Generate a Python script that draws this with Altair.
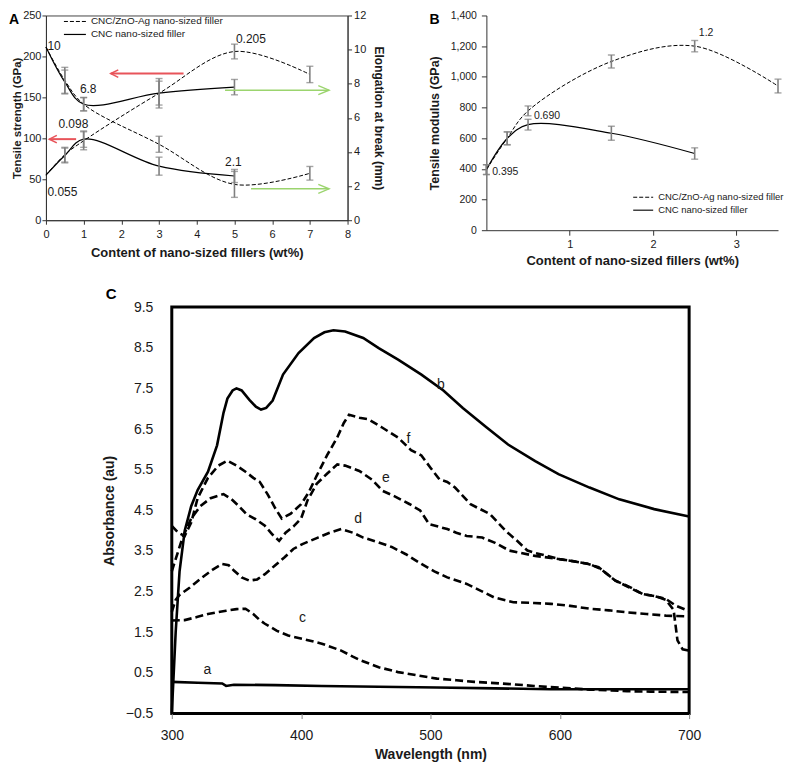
import altair as alt
import pandas as pd

FONT = "Liberation Sans"
INK = "#1a1a1a"
GREY = "#808080"
RED = "#e8545a"
GREEN = "#9bd46e"

# ---------------- Panel A data ----------------
A_x = [0, 0.5, 1, 3, 5, 7]
A_ts_hyb = [55, 80, 97, 155, 206, 178]          # CNC/ZnO-Ag, tensile strength (GPa)
A_ts_hyb_err = [0, 9, 11, 18, 9, 10]
A_x_cnc = [0, 0.5, 1, 3, 5]
A_ts_cnc = [55, 79, 99, 66, 54]                 # CNC, tensile strength (GPa)
A_ts_cnc_err = [0, 9, 10, 11, 8]
A_el_hyb = [10.15, 8.2, 6.8, 4.45, 2.1, 2.75]   # CNC/ZnO-Ag, elongation (mm)
A_el_hyb_err = [0, 0.76, 0.4, 0.47, 0.76, 0.4]
A_el_cnc = [10.15, 8.1, 6.8, 7.45, 7.8]         # CNC, elongation (mm)
A_el_cnc_err = [0, 0.7, 0.38, 0.7, 0.45]
A_ann_text = ["10", "6.8", "0.098", "0.055", "0.205", "2.1"]
A_ann_x = [0.04, 0.9, 0.33, 0.04, 5.04, 4.75]
A_ann_y = [213, 160, 118, 34, 221, 71]
A_red_from = [3.65, 0.8]
A_red_to = [1.72, 0.09]
A_red_y = [179, 99]
A_green_from = [4.75, 5.44]
A_green_to = [7.51, 7.51]
A_green_y = [7.62, 1.84]
A_legend = ["CNC/ZnO-Ag nano-sized filler", "CNC  nano-sized filler"]

# ---------------- Panel B data ----------------
B_x = [0, 0.25, 0.5, 1.5, 2.5, 3.5]
B_hyb = [395, 600, 778, 1100, 1200, 940]
B_hyb_err = [32, 42, 32, 42, 37, 45]
B_x_cnc = [0, 0.25, 0.5, 1.5, 2.5]
B_cnc = [395, 598, 688, 632, 500]
B_cnc_err = [32, 42, 35, 46, 37]
B_ann_text = ["0.395", "0.690", "1.2"]
B_ann_x = [0.07, 0.57, 2.55]
B_ann_y = [380, 742, 1287]

# ---------------- Panel C data ----------------
C_b_x = [300, 303, 306, 310, 315, 320, 328, 335, 340, 343, 347, 350, 354, 360, 365, 369, 373, 378,
         386, 398, 410, 418, 425, 434, 448, 460, 475, 493, 510, 525, 543, 560, 581, 599, 623, 646, 673, 700]
C_b_y = [-0.5, 1.5, 3.0, 4.0, 4.6, 5.0, 5.45, 6.1, 6.9, 7.25, 7.45, 7.5, 7.45, 7.22, 7.05, 6.98, 7.02, 7.2,
         7.84, 8.37, 8.74, 8.88, 8.93, 8.9, 8.74, 8.49, 8.21, 7.84, 7.45, 7.02, 6.55, 6.12, 5.71, 5.39, 5.06, 4.77, 4.53, 4.35]
C_f_x = [300, 305, 310, 315, 320, 328, 336, 343, 350, 357, 363, 368, 374, 380, 385, 392, 400, 406, 412, 420,
         428, 433, 437, 445, 452, 462, 475, 485, 493, 500, 507, 513, 519, 531, 546, 558, 567, 575, 581, 590,
         600, 610, 622, 630, 643, 655, 664, 675, 682, 688, 691, 695, 700]
C_f_y = [4.12, 3.95, 3.87, 4.2, 4.8, 5.3, 5.6, 5.72, 5.6, 5.45, 5.3, 5.2, 4.9, 4.55, 4.3, 4.42, 4.65, 4.95, 5.35, 5.85,
         6.3, 6.65, 6.85, 6.78, 6.74, 6.55, 6.29, 5.98, 5.85, 5.55, 5.26, 5.2, 5.06, 4.65, 4.41, 4.0, 3.75, 3.51, 3.45, 3.38,
         3.3, 3.25, 3.18, 3.1, 2.77, 2.6, 2.44, 2.38, 2.3, 2.05, 1.3, 1.08, 1.05]
C_e_x = [300, 303, 308, 315, 322, 330, 340, 346, 352, 358, 365, 372, 378, 383, 388, 394, 400, 405, 412, 420,
         428, 434, 445, 455, 463, 472, 484, 492, 499, 506, 513, 520, 528, 540, 550, 561, 570, 581, 595, 608,
         623, 632, 643, 654, 664, 672, 682, 690, 700]
C_e_y = [3.0, 3.3, 3.8, 4.3, 4.6, 4.8, 4.9, 4.78, 4.6, 4.4, 4.28, 4.12, 3.9, 3.75, 3.95, 4.1, 4.3, 4.75, 5.15, 5.4,
         5.63, 5.6, 5.47, 5.25, 4.98, 4.85, 4.65, 4.5, 4.16, 4.1, 4.04, 3.95, 3.87, 3.83, 3.7, 3.51, 3.45, 3.38, 3.32, 3.26,
         3.18, 3.05, 2.77, 2.6, 2.44, 2.4, 2.32, 2.15, 2.02]
C_d_x = [300, 303, 306, 314, 322, 332, 339, 344, 348, 354, 360, 366, 372, 380, 387, 394, 401, 413, 422, 431,
         440, 448, 460, 470, 481, 493, 503, 513, 528, 539, 549, 564, 580, 593, 608, 623, 638, 652, 667, 682, 700]
C_d_y = [2.0, 2.3, 2.42, 2.6, 2.81, 3.05, 3.18, 3.15, 3.02, 2.85, 2.77, 2.8, 2.93, 3.15, 3.34, 3.55, 3.67, 3.83, 3.95, 4.04,
         3.95, 3.83, 3.71, 3.6, 3.42, 3.18, 3.0, 2.85, 2.69, 2.52, 2.36, 2.24, 2.22, 2.2, 2.15, 2.08, 2.04, 1.99, 1.95, 1.91, 1.89]
C_c_x = [300, 310, 320, 328, 342, 350, 357, 363, 368, 372, 381, 390, 401, 416, 431, 440, 446, 460, 475, 490,
         505, 520, 534, 550, 564, 580, 593, 610, 623, 640, 652, 670, 700]
C_c_y = [1.79, 1.8, 1.88, 1.95, 2.03, 2.07, 2.08, 1.95, 1.8, 1.71, 1.54, 1.42, 1.34, 1.22, 1.05, 0.9, 0.81, 0.64, 0.52, 0.44,
         0.36, 0.32, 0.28, 0.25, 0.22, 0.18, 0.15, 0.12, 0.09, 0.07, 0.05, 0.04, 0.03]
C_a_x = [300, 320, 339, 342, 348, 380, 416, 460, 505, 550, 593, 650, 700]
C_a_y = [0.28, 0.26, 0.24, 0.18, 0.21, 0.2, 0.18, 0.16, 0.14, 0.12, 0.1, 0.1, 0.1]
C_lab_text = ["a", "b", "c", "d", "e", "f"]
C_lab_x = [327.5, 508, 401, 444, 465.6, 483]
C_lab_y = [0.58, 7.58, 1.85, 4.28, 5.29, 6.25]


def one(label):
    return pd.DataFrame({"t": [label]})


def series(xs, ys):
    return pd.DataFrame({"x": xs, "v": ys})


def err_df(xs, ys, errs):
    rows = [(x, y - e, y + e) for x, y, e in zip(xs, ys, errs) if e > 0]
    return pd.DataFrame(rows, columns=["x", "lo", "hi"])


def enc_x(field, sc, ax):
    return alt.X(field, type="quantitative", scale=sc, axis=ax)


def enc_y(field, sc, ax):
    return alt.Y(field, type="quantitative", scale=sc, axis=ax)


def errbars(df, X, Y, width=7):
    xs, xa = X
    ys, ya = Y
    rule = alt.Chart(df).mark_rule(color=GREY, strokeWidth=1.6).encode(
        x=enc_x("x", xs, xa), y=enc_y("lo", ys, ya), y2="hi:Q")
    lo = alt.Chart(df).mark_tick(orient="horizontal", color=GREY, size=width, thickness=1.4).encode(
        x=enc_x("x", xs, xa), y=enc_y("lo", ys, ya))
    hi = alt.Chart(df).mark_tick(orient="horizontal", color=GREY, size=width, thickness=1.4).encode(
        x=enc_x("x", xs, xa), y=enc_y("hi", ys, ya))
    return [rule, lo, hi]


# ======================= Panel A =======================
A_W, A_H = 302, 205
xA = alt.Scale(domain=[0, 8], nice=False)
yL = alt.Scale(domain=[0, 250], nice=False)
yR = alt.Scale(domain=[0, 12], nice=False)

axA_x = alt.Axis(values=list(range(9)), format="d", title="Content of nano-sized fillers (wt%)",
                 titleFontSize=13, titleFontWeight="bold", labelFontSize=11, tickSize=4,
                 labelPadding=4, titlePadding=7, labelFlush=False, grid=False,
                 domainColor="#333", tickColor="#333", labelColor=INK, titleColor=INK)
axA_l = alt.Axis(values=[0, 50, 100, 150, 200, 250], format="d", title="Tensile strength (GPa)",
                 titleFontSize=11.5, titleFontWeight="bold", labelFontSize=11, tickSize=4,
                 labelPadding=1, titlePadding=0, grid=False,
                 domainColor="#333", tickColor="#333", labelColor=INK, titleColor=INK)
axA_r = alt.Axis(orient="right", values=list(range(0, 13, 2)), format="d", title="Elongation at break (mm)",
                 titleFontSize=12, titleFontWeight="bold", labelFontSize=11, tickSize=4,
                 labelPadding=2, titlePadding=6, grid=False,
                 domainColor="#333", tickColor="#333", labelColor=INK, titleColor=INK)
XA = (xA, axA_x)
YL = (yL, axA_l)
YR = (yR, axA_r)

# left-axis group (tensile strength)
a_hyb_ts = alt.Chart(series(A_x, A_ts_hyb)).mark_line(
    color="black", strokeWidth=1, strokeDash=[4, 2], interpolate="catmull-rom").encode(
    x=enc_x("x", *XA), y=enc_y("v", *YL))
a_cnc_ts = alt.Chart(series(A_x_cnc, A_ts_cnc)).mark_line(
    color="black", strokeWidth=1.2, interpolate="catmull-rom").encode(
    x=enc_x("x", *XA), y=enc_y("v", *YL))
ann_df = pd.DataFrame({"x": A_ann_x, "v": A_ann_y, "t": A_ann_text})
a_ann = alt.Chart(ann_df).mark_text(align="left", baseline="middle", fontSize=12, color=INK).encode(
    x=enc_x("x", *XA), y=enc_y("v", *YL), text="t:N")
red_df = pd.DataFrame({"x": A_red_from, "x2": A_red_to, "v": A_red_y})
a_red = alt.Chart(red_df).mark_rule(color=RED, strokeWidth=2).encode(
    x=enc_x("x", *XA), x2="x2:Q", y=enc_y("v", *YL))
a_red_head = alt.Chart(red_df).mark_point(shape="M 2 -1 L 0 0 L 2 1", filled=False, color=RED,
                                          strokeWidth=1.6, size=56, opacity=1).encode(
    x=enc_x("x2", *XA), y=enc_y("v", *YL))

leg1_line = alt.Chart(one(A_legend[0])).mark_rule(color="black", strokeWidth=1, strokeDash=[4, 2]).encode(
    x=alt.value(18), x2=alt.value(40), y=alt.value(6))
leg1_text = alt.Chart(one(A_legend[0])).mark_text(align="left", baseline="middle", fontSize=10, color=INK).encode(
    x=alt.value(45), y=alt.value(6), text="t:N")
leg2_line = alt.Chart(one(A_legend[1])).mark_rule(color="black", strokeWidth=1.2).encode(
    x=alt.value(18), x2=alt.value(40), y=alt.value(19))
leg2_text = alt.Chart(one(A_legend[1])).mark_text(align="left", baseline="middle", fontSize=10, color=INK).encode(
    x=alt.value(45), y=alt.value(19), text="t:N")
letterA = alt.Chart(one("A")).mark_text(align="left", baseline="alphabetic", fontSize=14,
                                         fontWeight="bold", color="black").encode(
    x=alt.value(-37), y=alt.value(9), text="t:N")

left_group = alt.layer(
    a_hyb_ts, a_cnc_ts,
    *errbars(err_df(A_x, A_ts_hyb, A_ts_hyb_err), XA, YL),
    *errbars(err_df(A_x_cnc, A_ts_cnc, A_ts_cnc_err), XA, YL),
    a_ann, a_red, a_red_head, leg1_line, leg1_text, leg2_line, leg2_text, letterA)

a_hyb_el = alt.Chart(series(A_x, A_el_hyb)).mark_line(
    color="black", strokeWidth=1, strokeDash=[4, 2], interpolate="catmull-rom").encode(
    x=enc_x("x", *XA), y=enc_y("v", *YR))
a_cnc_el = alt.Chart(series(A_x_cnc, A_el_cnc)).mark_line(
    color="black", strokeWidth=1.2, interpolate="catmull-rom").encode(
    x=enc_x("x", *XA), y=enc_y("v", *YR))
green_df = pd.DataFrame({"x": A_green_from, "x2": A_green_to, "v": A_green_y})
a_green = alt.Chart(green_df).mark_rule(color=GREEN, strokeWidth=1.6).encode(
    x=enc_x("x", *XA), x2="x2:Q", y=enc_y("v", *YR))
a_green_head = alt.Chart(green_df).mark_point(shape="M -2.4 -1 L 0 0 L -2.4 1", filled=False, color=GREEN,
                                              strokeWidth=1.4, size=81, opacity=1).encode(
    x=enc_x("x2", *XA), y=enc_y("v", *YR))

right_group = alt.layer(
    a_hyb_el, a_cnc_el,
    *errbars(err_df(A_x, A_el_hyb, A_el_hyb_err), XA, YR),
    *errbars(err_df(A_x_cnc, A_el_cnc, A_el_cnc_err), XA, YR),
    a_green, a_green_head)

panelA = alt.layer(left_group, right_group).resolve_scale(y="independent").properties(
    width=A_W, height=A_H, view=alt.ViewBackground(stroke="#444", strokeWidth=1))

# ======================= Panel B =======================
B_W, B_H = 292, 215
xB = alt.Scale(domain=[0, 3.5], nice=False)
yB = alt.Scale(domain=[0, 1400], nice=False)
axB_x = alt.Axis(values=[1, 2, 3], format="d", title="Content of nano-sized fillers (wt%)",
                 titleFontSize=13, titleFontWeight="bold", labelFontSize=11, tickSize=5,
                 labelPadding=3, titlePadding=5, labelFlush=False, grid=False,
                 domainColor="#333", tickColor="#333", labelColor=INK, titleColor=INK)
axB_y = alt.Axis(values=list(range(0, 1401, 200)), format=",.0f", title="Tensile modulus (GPa)",
                 titleFontSize=12.5, titleFontWeight="bold", labelFontSize=10.5, tickSize=5,
                 labelPadding=5, titlePadding=9, grid=False,
                 domainColor="#333", tickColor="#333", labelColor=INK, titleColor=INK)
XB = (xB, axB_x)
YB = (yB, axB_y)

b_hyb = alt.Chart(series(B_x, B_hyb)).mark_line(
    color="black", strokeWidth=1, strokeDash=[4, 2], interpolate="catmull-rom").encode(
    x=enc_x("x", *XB), y=enc_y("v", *YB))
b_cnc = alt.Chart(series(B_x_cnc, B_cnc)).mark_line(
    color="black", strokeWidth=1.2, interpolate="catmull-rom").encode(
    x=enc_x("x", *XB), y=enc_y("v", *YB))
bann_df = pd.DataFrame({"x": B_ann_x, "v": B_ann_y, "t": B_ann_text})
b_ann = alt.Chart(bann_df).mark_text(align="left", baseline="middle", fontSize=10.5, color=INK).encode(
    x=enc_x("x", *XB), y=enc_y("v", *YB), text="t:N")
bleg1_line = alt.Chart(one(A_legend[0])).mark_rule(color="black", strokeWidth=1, strokeDash=[4, 2]).encode(
    x=alt.value(147), x2=alt.value(167), y=alt.value(182))
bleg1_text = alt.Chart(one(A_legend[0])).mark_text(align="left", baseline="middle", fontSize=9.5, color=INK).encode(
    x=alt.value(172), y=alt.value(182), text="t:N")
bleg2_line = alt.Chart(one(A_legend[1])).mark_rule(color="#333", strokeWidth=1.4).encode(
    x=alt.value(147), x2=alt.value(167), y=alt.value(195))
bleg2_text = alt.Chart(one(A_legend[1])).mark_text(align="left", baseline="middle", fontSize=9.5, color=INK).encode(
    x=alt.value(172), y=alt.value(195), text="t:N")
letterB = alt.Chart(one("B")).mark_text(align="left", baseline="alphabetic", fontSize=14,
                                         fontWeight="bold", color="black").encode(
    x=alt.value(-57), y=alt.value(9), text="t:N")

panelB = alt.layer(
    b_hyb, b_cnc,
    *errbars(err_df(B_x, B_hyb, B_hyb_err), XB, YB),
    *errbars(err_df(B_x_cnc, B_cnc, B_cnc_err), XB, YB),
    b_ann, bleg1_line, bleg1_text, bleg2_line, bleg2_text, letterB
).properties(width=B_W, height=B_H, view=alt.ViewBackground(stroke=None))

# ======================= Panel C =======================
C_W, C_H = 518, 407
xC = alt.Scale(domain=[300, 700], nice=False)
yC = alt.Scale(domain=[-0.5, 9.5], nice=False)
axC_x = alt.Axis(values=[300, 400, 500, 600, 700], title="Wavelength (nm)", format="d",
                 titleFontSize=14, titleFontWeight="bold", labelFontSize=14, tickSize=5,
                 tickColor="#888", labelPadding=10, titlePadding=5, labelFlush=False,
                 domain=False, grid=False, labelColor=INK, titleColor=INK)
axC_y = alt.Axis(values=[-0.5 + i for i in range(11)], format=".1f", title="Absorbance (au)",
                 titleFontSize=14, titleFontWeight="bold", labelFontSize=14, ticks=False,
                 labelPadding=19, titlePadding=9, domain=False, grid=False,
                 labelColor=INK, titleColor=INK)
XC = (xC, axC_x)
YC = (yC, axC_y)


def c_line(xs, ys, dashed):
    mk = dict(color="black", strokeWidth=2.6, interpolate="linear")
    if dashed:
        mk["strokeDash"] = [8, 4]
    return alt.Chart(series(xs, ys)).mark_line(**mk).encode(
        x=enc_x("x", *XC), y=enc_y("v", *YC))


clab_df = pd.DataFrame({"x": C_lab_x, "v": C_lab_y, "t": C_lab_text})
c_lab = alt.Chart(clab_df).mark_text(align="center", baseline="middle", fontSize=14, color=INK).encode(
    x=enc_x("x", *XC), y=enc_y("v", *YC), text="t:N")
letterC = alt.Chart(one("C")).mark_text(align="left", baseline="alphabetic", fontSize=15,
                                         fontWeight="bold", color="black").encode(
    x=alt.value(-66), y=alt.value(-8), text="t:N")

panelC = alt.layer(
    c_line(C_b_x, C_b_y, False),
    c_line(C_a_x, C_a_y, False),
    c_line(C_c_x, C_c_y, True),
    c_line(C_d_x, C_d_y, True),
    c_line(C_e_x, C_e_y, True),
    c_line(C_f_x, C_f_y, True),
    c_lab, letterC
).properties(width=C_W, height=C_H, view=alt.ViewBackground(stroke="black", strokeWidth=3))

spacer = alt.Chart(one("")).mark_point(opacity=0, size=1).encode(
    x=alt.value(0), y=alt.value(0)).properties(width=126, height=10, view=alt.ViewBackground(stroke=None))

row1 = alt.hconcat(panelA, panelB, spacing=139, bounds="flush")
row2 = alt.hconcat(spacer, panelC, spacing=0, bounds="flush")
chart = alt.vconcat(row1, row2, spacing=18).properties(
    padding={"left": 0, "top": 0, "right": 0, "bottom": 0}
).configure(font=FONT).configure_view(strokeWidth=1)

chart.save("out.html", embed_options={"renderer": "svg", "actions": False})
